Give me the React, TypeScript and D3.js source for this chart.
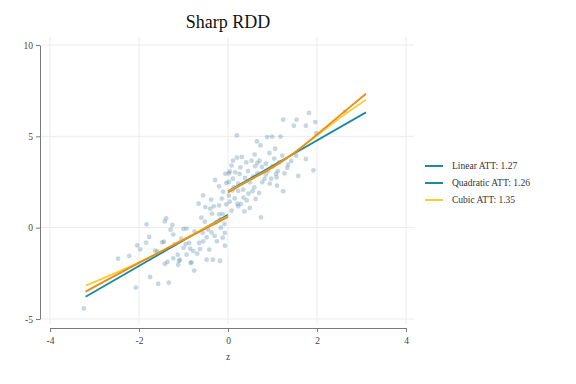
import { useEffect, useRef } from "react";
import * as d3 from "d3";

// scatter points: [z, y]
const pointsLeft: [number, number][] = [
  [-3.24, -4.42], [-2.47, -1.7], [-2.22, -1.55], [-2.07, -3.28], [-1.75, -2.7], [-1.57, -3.07],
  [-1.33, -3.01], [-1.83, 0.18], [-2.04, -0.97], [-1.97, -1.19], [-1.84, -0.82], [-1.77, -0.51],
  [-1.59, -1.3], [-1.64, -1.26], [-1.44, -0.77], [-1.48, -0.8], [-1.42, 0.34], [-1.39, 0.51],
  [-1.25, 0.15], [-1.29, -0.11], [-1.23, -0.38], [-1.42, -1.99], [-1.36, -1.88], [-1.1, -1.82],
  [-1.12, -2.03], [-0.76, -2.35], [-0.84, -1.93], [-1.0, -0.07], [-0.93, -0.05], [-0.66, 1.31],
  [-0.56, 1.77], [-0.38, 1.53], [-0.51, 1.13], [-0.4, 1.04], [-0.32, 1.17], [-0.2, 1.22],
  [-0.14, 1.59], [-0.04, 1.28], [-0.2, 2.26], [-0.11, 1.97], [-0.29, 2.61], [-0.36, 0.77],
  [-0.2, 0.73], [-0.12, 0.75], [-0.52, 0.33], [-0.18, 0.44], [-0.16, 0.0], [-0.07, -0.29],
  [-0.57, -0.29], [-0.48, -0.53], [-0.37, -0.26], [-0.25, -0.75], [-0.56, -0.75], [-0.65, -0.84],
  [-0.87, -0.84], [-1.0, -1.11], [-0.85, -1.15], [-0.78, -1.28], [-0.93, -1.48], [-1.13, -1.48],
  [-1.08, -1.75], [-1.23, -1.68], [-0.82, -1.9], [-0.48, -1.75], [-0.34, -1.75], [-0.18, -1.81],
  [-0.07, -0.99], [-0.63, -1.17], [-0.69, -1.42], [-0.06, 2.95], [-0.04, 2.45], [-0.08, 0.2],
  [-0.27, 0.28], [-0.45, -0.1], [-0.6, 0.55], [-0.75, -0.2], [-1.05, -0.6], [-0.95, -0.9],
  [-1.2, -0.9], [-0.3, -0.45], [-0.12, -0.55], [-0.42, -1.2],
];

const pointsRight: [number, number][] = [
  [0.65, 4.72], [0.73, 4.5], [0.11, 3.67], [0.2, 3.83], [0.31, 3.87], [0.41, 3.57], [0.53, 3.67],
  [0.66, 3.54], [0.61, 3.36], [0.71, 3.67], [0.76, 3.32], [0.93, 4.09], [1.06, 4.32], [1.04, 3.78],
  [1.15, 3.57], [1.22, 3.94], [1.33, 3.27], [1.27, 2.97], [1.42, 3.65], [0.04, 3.08], [0.02, 2.97],
  [0.16, 3.03], [0.26, 2.94], [0.11, 2.68], [0.02, 2.5], [0.23, 2.41], [0.38, 2.72], [0.49, 2.48],
  [0.57, 2.81], [0.66, 2.99], [0.59, 2.21], [0.77, 2.48], [0.82, 2.67], [0.85, 2.9], [0.97, 2.68],
  [1.08, 2.94], [1.09, 2.75], [1.1, 2.3], [1.24, 1.99], [0.94, 2.41], [0.23, 2.01], [0.1, 2.04],
  [0.34, 2.08], [0.46, 1.86], [0.62, 1.57], [0.42, 1.49], [0.29, 1.3], [0.21, 1.31], [0.23, 1.17],
  [0.49, 1.08], [0.37, 0.89], [0.74, 0.56], [0.08, 0.93], [0.04, 1.42], [1.24, 5.91], [1.54, 5.91],
  [1.48, 5.58], [1.75, 5.58], [1.82, 6.28], [1.96, 5.78], [1.98, 5.18], [2.63, 6.35], [0.88, 4.96],
  [0.99, 4.98], [1.18, 4.98], [1.53, 3.94], [1.75, 3.76], [1.92, 3.14], [1.58, 2.83], [0.2, 5.05],
  [1.35, 3.45], [0.13, 2.2], [0.35, 1.65], [0.55, 2.0], [0.7, 1.9], [0.9, 3.1], [0.02, 1.75],
  [0.15, 1.6], [0.45, 3.1], [0.85, 3.5], [1.0, 3.35], [0.28, 3.3], [0.08, 3.4], [0.6, 4.0], [1.12, 3.1],
];

// fitted lines
const linearLeft: [number, number][] = [[-3.2, -3.78], [0, 0.71]];
const linearRight: [number, number][] = [[0, 1.99], [3.1, 6.31]];
const quadLeft: [number, number][] = [[-3.2, -3.5], [-2, -1.93], [-1, -0.67], [0, 0.59]];
const quadRight: [number, number][] = [[0, 1.93], [0.5, 2.62], [1, 3.3], [1.5, 4.12], [2, 5.1], [2.5, 6.12], [3.1, 7.33]];
const cubicLeft: [number, number][] = [[-3.2, -3.17], [-2, -1.9], [-1, -0.64], [0, 0.63]];
const cubicRight: [number, number][] = [[0, 1.96], [0.5, 2.62], [1, 3.3], [1.5, 4.12], [2, 5.05], [2.5, 5.98], [3.1, 7.0]];

const xTicks = [-4, -2, 0, 2, 4];
const yTicks = [-5, 0, 5, 10];
const legendItems = [
  { label: "Linear ATT: 1.27", color: "#1a8aa3" },
  { label: "Quadratic ATT: 1.26", color: "#1a8aa3" },
  { label: "Cubic ATT: 1.35", color: "#f5cf3a" },
];

const TEAL = "#1a8aa3";
const ORANGE = "#ee8a10";
const YELLOW = "#f5cf3a";
const FONT = "Liberation Serif, Times New Roman, DejaVu Serif, serif";

export default function App() {
  const svgRef = useRef<SVGSVGElement | null>(null);

  useEffect(() => {
    const svg = d3.select(svgRef.current);
    svg.selectAll("*").remove();

    const x = d3.scaleLinear().domain([-4, 4]).range([50, 406]);
    const y = d3.scaleLinear().domain([-5, 10]).range([319, 45]);

    const panel = { left: 41, right: 414, top: 37, bottom: 324 };

    // grid
    const grid = svg.append("g");
    grid.selectAll(".vg").data(xTicks).join("line")
      .attr("x1", d => x(d)).attr("x2", d => x(d))
      .attr("y1", panel.top).attr("y2", panel.bottom)
      .attr("stroke", "#ebebeb").attr("stroke-width", 1);
    grid.selectAll(".hg").data(yTicks).join("line")
      .attr("x1", panel.left).attr("x2", panel.right)
      .attr("y1", d => y(d)).attr("y2", d => y(d))
      .attr("stroke", "#ebebeb").attr("stroke-width", 1);

    // axes (plain hyphen for negatives, like the original)
    const fmt = (d: d3.NumberValue) => String(d);
    const yAxis = svg.append("g")
      .attr("transform", "translate(40,0)")
      .call(d3.axisLeft(y).tickValues(yTicks).tickSize(4).tickSizeOuter(0).tickFormat(fmt));
    const xAxis = svg.append("g")
      .attr("transform", "translate(0,328)")
      .call(d3.axisBottom(x).tickValues(xTicks).tickSize(4).tickSizeOuter(0).tickFormat(fmt));
    [xAxis, yAxis].forEach(a => {
      a.attr("font-family", FONT).attr("font-size", 9.5);
      a.select(".domain").attr("stroke", "#7a7a7a");
      a.selectAll(".tick line").attr("stroke", "#7a7a7a");
      a.selectAll("text").attr("fill", "#444");
    });
    xAxis.selectAll("text").attr("dy", "0.9em");

    svg.append("text")
      .attr("x", x(0)).attr("y", 360)
      .attr("text-anchor", "middle")
      .attr("font-family", FONT).attr("font-size", 9.5)
      .attr("fill", "#444")
      .text("z");

    // points
    const pts = [...pointsLeft, ...pointsRight];
    svg.append("g").selectAll("circle").data(pts).join("circle")
      .attr("cx", d => x(d[0])).attr("cy", d => y(d[1]))
      .attr("r", 2.4)
      .attr("fill", "#4f83a3")
      .attr("fill-opacity", 0.32);

    // fitted lines
    const line = d3.line<[number, number]>().x(d => x(d[0])).y(d => y(d[1])).curve(d3.curveMonotoneX);
    const series: [[number, number][], string][] = [
      [linearLeft, TEAL], [linearRight, TEAL],
      [cubicLeft, YELLOW], [cubicRight, YELLOW],
      [quadLeft, ORANGE], [quadRight, ORANGE],
    ];
    svg.append("g").selectAll("path").data(series).join("path")
      .attr("d", d => line(d[0]))
      .attr("fill", "none")
      .attr("stroke", d => d[1])
      .attr("stroke-width", 1.8);

    // legend
    const legend = svg.append("g").attr("font-family", FONT).attr("font-size", 9.5);
    legendItems.forEach((item, i) => {
      const ly = 166 + i * 17;
      legend.append("line")
        .attr("x1", 425).attr("x2", 443).attr("y1", ly).attr("y2", ly)
        .attr("stroke", item.color).attr("stroke-width", 2);
      legend.append("text")
        .attr("x", 452).attr("y", ly).attr("dy", "0.33em")
        .attr("fill", "#333")
        .text(item.label);
    });

    // title
    svg.append("text")
      .attr("x", 228).attr("y", 28)
      .attr("text-anchor", "middle")
      .attr("font-family", FONT).attr("font-size", 18)
      .attr("fill", "#111")
      .text("Sharp RDD");
  }, []);

  return (
    <div style={{ position: "absolute", left: 0, top: 0 }}>
      <svg ref={svgRef} width={576} height={384} style={{ display: "block", background: "#fff" }} />
    </div>
  );
}
